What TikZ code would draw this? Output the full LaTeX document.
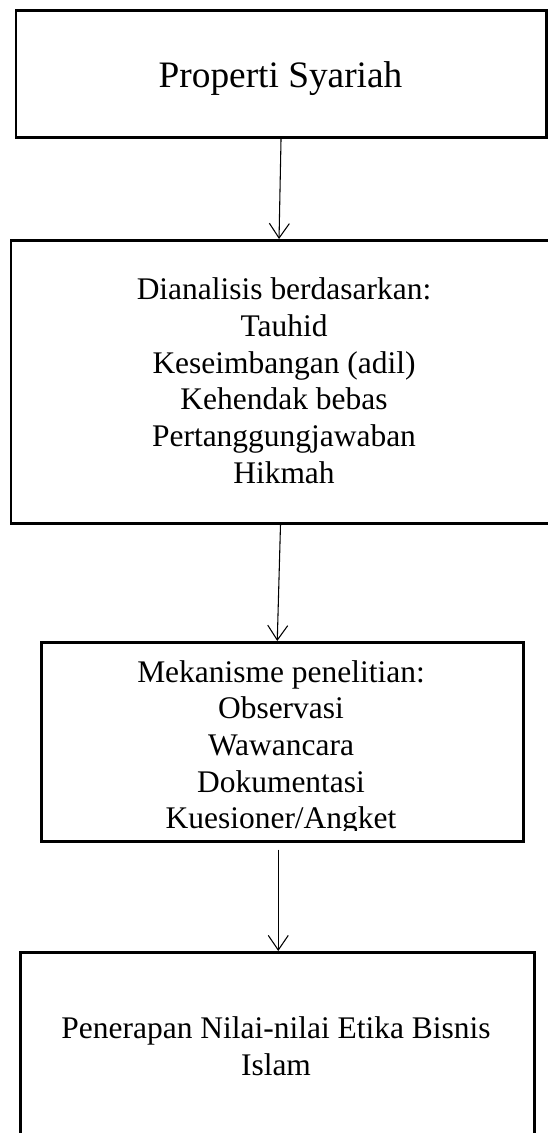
\documentclass[tikz,border=0pt]{standalone}
\usepackage{fontspec}
\setmainfont{Liberation Serif}
\usetikzlibrary{arrows.meta,calc}
\begin{document}
\begin{tikzpicture}[x=0.75pt,y=-0.75pt,
  boxnode/.style={draw=black, line width=1.9pt, inner sep=0pt, anchor=north west},
  txt/.style={anchor=base, align=center, inner sep=0pt, font=\fontsize{23.6}{27.5}\selectfont},
  arr/.style={line width=0.8pt, -{Straight Barb[length=11pt,width=15pt,line width=0.8pt]}}
]
\useasboundingbox (0,0) rectangle (547,1133);
% boxes
\node[boxnode, minimum width=397.9pt, minimum height=95.25pt] (b1) at (14.5,9) {};
\node[boxnode, minimum width=404.6pt, minimum height=212.25pt] (b2) at (9.5,239) {};
\node[boxnode, minimum width=361.5pt, minimum height=149.25pt] (b3) at (40,641) {};
\node[boxnode, minimum width=385.5pt, minimum height=150pt] (b4) at (19,951) {};
% texts (anchor base = baseline of the last line)
\node[txt, font=\fontsize{28}{32}\selectfont] (t1) at (280.5,87) {Properti Syariah};
\node[txt] (t2) at (284,483) {Dianalisis berdasarkan:\\Tauhid\\Keseimbangan (adil)\\Kehendak bebas\\Pertanggungjawaban\\Hikmah};
\begin{scope}
\clip (40,641) rectangle (522,830);
\node[txt] (t3) at (281,828.8) {Mekanisme penelitian:\\Observasi\\Wawancara\\Dokumentasi\\Kuesioner/Angket};
\end{scope}
\node[txt] (t4) at (276,1075) {Penerapan Nilai-nilai Etika Bisnis\\Islam};
% connectors
\draw[arr] (b1.south) -- ($(b1.south |- b2.north)+(-2,0)$);
\draw[arr] (b2.south) -- ($(b3.north)+(-5,0)$);
\draw[arr] ($(b3.south)+(-4,7)$) -- ($(b4.north)+(1,0)$);
\end{tikzpicture}
\end{document}
